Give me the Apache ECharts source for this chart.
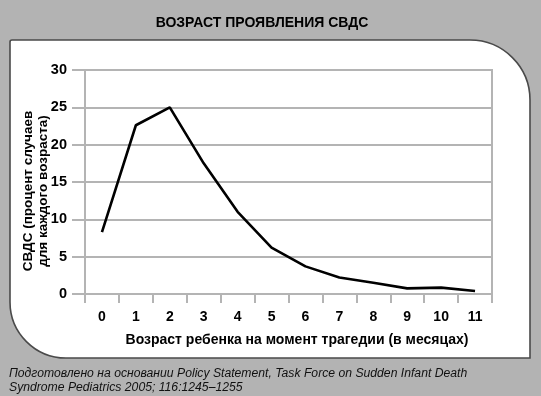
<!DOCTYPE html>
<html>
<head>
<meta charset="utf-8">
<script src="https://cdn.jsdelivr.net/npm/echarts@6/dist/echarts.min.js"></script>
<style>html,body{margin:0;padding:0;background:#b3b3b3;}#c{width:541px;height:396px;}</style>
</head>
<body>
<div id="c"></div>
<script>
var categories = ['0','1','2','3','4','5','6','7','8','9','10','11'];
var sidsPercent = [8.3, 22.6, 25.0, 17.5, 11.0, 6.2, 3.7, 2.2, 1.5, 0.75, 0.85, 0.4];
var yTicks = [0, 5, 10, 15, 20, 25, 30];
var titleText = 'ВОЗРАСТ ПРОЯВЛЕНИЯ СВДС';
var yName = 'СВДС (процент случаев\nдля каждого возраста)';
var xName = 'Возраст ребенка на момент трагедии (в месяцах)';
var footer = 'Подготовлено на основании Policy Statement, Task Force on Sudden Infant Death\nSyndrome Pediatrics 2005; 116:1245–1255';

var font = 'Liberation Sans, Arial, sans-serif';
var gridGray = '#b4b4b4';
var chart = echarts.init(document.getElementById('c'));
chart.setOption({
  backgroundColor: '#b3b3b3',
  animation: false,
  grid: {left: 85, right: 49, top: 70, bottom: 102, show: true, borderColor: gridGray, borderWidth: 2, backgroundColor: 'transparent', z: 1},
  graphic: [
    {type: 'rect', z: -10, shape: {x: 10, y: 40, width: 520, height: 318, r: [2, 60, 0, 56]},
     style: {fill: '#ffffff', stroke: '#4a4a4a', lineWidth: 1.6}},
    {type: 'text', x: 262, y: 23, z: 5, style: {text: titleText, font: 'bold 14px ' + font, fill: '#000', align: 'center', verticalAlign: 'middle'}},
    {type: 'text', x: 36, y: 191, rotation: Math.PI / 2, z: 5, style: {text: yName, font: 'bold 13.5px ' + font, fill: '#000', align: 'center', verticalAlign: 'middle', lineHeight: 15}},
    {type: 'text', x: 297, y: 340, z: 5, style: {text: xName, font: 'bold 14px ' + font, fill: '#000', align: 'center', verticalAlign: 'middle'}},
    {type: 'text', x: 9, y: 366, scaleY: 1.12, z: 5, style: {text: footer, font: 'italic 12.2px ' + font, fill: '#111', align: 'left', verticalAlign: 'top', lineHeight: 12.5}}
  ],
  xAxis: {
    type: 'category', data: categories, boundaryGap: true,
    axisLine: {show: true, lineStyle: {color: gridGray, width: 2}},
    axisTick: {show: true, interval: 0, length: 9, lineStyle: {color: gridGray, width: 2}},
    axisLabel: {interval: 0, margin: 16, color: '#000', fontWeight: 'bold', fontSize: 14, fontFamily: font},
    splitLine: {show: false}
  },
  yAxis: {
    type: 'value', min: 0, max: 30, interval: 5,
    axisLine: {show: true, lineStyle: {color: gridGray, width: 2}},
    axisTick: {show: true, length: 13, lineStyle: {color: gridGray, width: 2}},
    axisLabel: {margin: 18, color: '#000', fontWeight: 'bold', fontSize: 14.5, fontFamily: font,
      formatter: function (v) { return yTicks.indexOf(v) >= 0 ? String(v) : ''; }},
    splitLine: {show: true, lineStyle: {color: gridGray, width: 2}}
  },
  series: [{
    type: 'line', data: sidsPercent, showSymbol: false, symbol: 'none', z: 3,
    lineStyle: {color: '#000', width: 2.6}
  }]
});
</script>
</body>
</html>
